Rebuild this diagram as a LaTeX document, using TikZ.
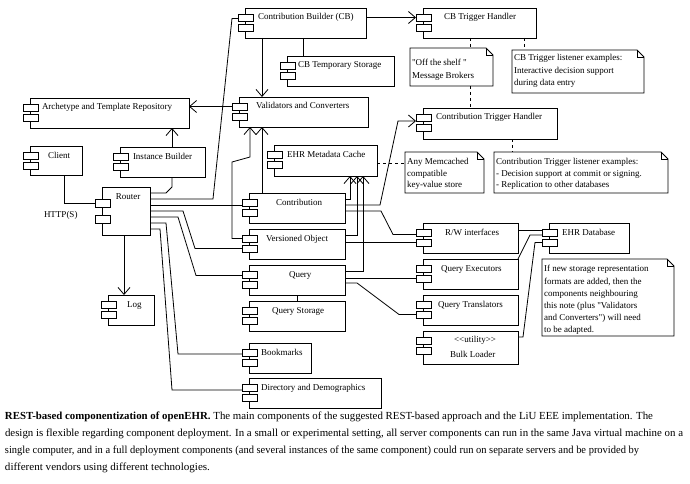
\documentclass[tikz,border=0pt]{standalone}
\usepackage{fontspec}
\usepackage{graphicx}
\newfontfamily\lblfont{Liberation Serif}
\newfontfamily\capfont{Liberation Serif}
\usetikzlibrary{arrows.meta,calc}

\newcommand\mkcomp[5]{%
  \node[compbox, minimum width=#4pt, minimum height=#5pt, anchor=north west] (#1) at (#2,#3) {};
  \node[iconbox, anchor=north] (#1i1) at ($(#1.north west)+(0.5,6)$) {};
  \node[iconbox, anchor=north] (#1i2) at ($(#1.north west)+(0.5,16)$) {};
}
\newcommand\mklab[3]{\node[lbl] (#1t) at ($(#1.north west)+(#2,12)$) {#3};}
\newcommand\mknote[5]{%
  \node[notebox, minimum width=#4pt, minimum height=#5pt, anchor=north west] (#1) at (#2,#3) {};
  \draw[notepen] (#1.north west) -- ($(#1.north east)+(-7,0)$) -- ($(#1.north east)+(0,7)$) -- (#1.south east) -- (#1.south west) -- cycle;
  \draw[notepen] ($(#1.north east)+(-7,0)$) -- ($(#1.north east)+(-7,7)$) -- ($(#1.north east)+(0,7)$);
}
\newcommand\mkline[4]{\node[lbl] (#1) at ($(#2.north west)+(2,#3)$) {#4};}

\tikzset{
  compbox/.style={draw, line width=0.9pt, fill=white, inner sep=0pt, outer sep=0pt},
  iconbox/.style={draw, line width=0.9pt, fill=white, minimum width=15pt, minimum height=7pt, inner sep=0pt, outer sep=0pt},
  notebox/.style={draw=none, inner sep=0pt, outer sep=0pt},
  notepen/.style={line width=0.9pt},
  lbl/.style={anchor=base west, inner sep=0pt, outer sep=0pt, font=\lblfont\fontsize{9}{11}\selectfont},
  conn/.style={line width=0.8pt},
  arr/.style={conn, -{Straight Barb[length=7pt, width=12pt]}},
  dsh/.style={conn, dash pattern=on 3pt off 3pt},
  capline/.style={anchor=base west, inner sep=0pt, outer sep=0pt, font=\capfont\fontsize{10.8}{12}\selectfont},
}

\begin{document}
\begin{tikzpicture}[x=1pt, y=-1pt]
\fill[white] (0,0) rectangle (690,484);
\useasboundingbox (0,0) rectangle (690,484);

% ---------- components ----------
\mkcomp{arch}{30}{98}{159}{30}     \mklab{arch}{12}{Archetype and Template Repository}
\mkcomp{client}{30}{146}{52}{29}   \mklab{client}{18}{Client}
\mkcomp{ib}{120}{147}{85}{30}      \mklab{ib}{13}{Instance Builder}
\mkcomp{log}{108}{295}{46}{30}     \mklab{log}{19}{Log}
\mkcomp{cb}{245}{8}{121}{30}       \mklab{cb}{13}{Contribution Builder (CB)}
\mkcomp{cbts}{287}{56}{107}{30}    \mklab{cbts}{11}{CB Temporary Storage}
\mkcomp{val}{239}{97}{129}{30}     \mklab{val}{17}{Validators and Converters}
\mkcomp{cache}{274}{145}{103}{31}  \mklab{cache}{13}{EHR Metadata Cache}
\mkcomp{contrib}{249}{193}{96}{30} \mklab{contrib}{27}{Contribution}
\mkcomp{vo}{249}{229}{96}{30}      \mklab{vo}{17}{Versioned Object}
\mkcomp{query}{249}{265}{96}{30}   \mklab{query}{40}{Query}
\mkcomp{qs}{249}{301}{96}{30}      \mklab{qs}{23}{Query Storage}
\mkcomp{bm}{249}{343}{62}{30}      \mklab{bm}{12}{Bookmarks}
\mkcomp{dir}{249}{378}{132}{30}    \mklab{dir}{12}{Directory and Demographics}
\mkcomp{cbth}{423}{8}{113}{30}     \mklab{cbth}{21}{CB Trigger Handler}
\mkcomp{cth}{423}{108}{134}{31}    \mklab{cth}{13}{Contribution Trigger Handler}
\mkcomp{rw}{423}{223}{95}{30}      \mklab{rw}{22}{R/W interfaces}
\mkcomp{qe}{423}{259}{95}{30}      \mklab{qe}{18}{Query Executors}
\mkcomp{qt}{423}{295}{95}{30}      \mklab{qt}{15}{Query Translators}
\mkcomp{bl}{423}{331}{95}{33}
\node[lbl, anchor=base] (blt1) at ($(bl.north west)+(52,11)$) {<\kern0pt<utility>\kern0pt>};
\node[lbl] (blt2) at ($(bl.north west)+(27,26)$) {Bulk Loader};
\mkcomp{ehr}{549}{223}{80}{30}     \mklab{ehr}{13}{EHR Database}

% Router (special icons)
\node[compbox, minimum width=48pt, minimum height=48pt, anchor=north west] (router) at (102,187) {};
\node[iconbox, minimum height=8pt, anchor=north] (routeri1) at ($(router.north west)+(0.5,12)$) {};
\node[iconbox, minimum height=8pt, anchor=north] (routeri2) at ($(router.north west)+(0.5,28)$) {};
\node[lbl, anchor=base] (routert) at ($(router.north)+(2,12)$) {Router};
\node[lbl] (http) at (44,217) {HTTP(S)};

% ---------- notes ----------
\mknote{offshelf}{410}{48}{83}{38}
\mkline{os1}{offshelf}{18}{"Off the shelf "}
\mkline{os2}{offshelf}{31}{Message Brokers}
\mknote{cbnote}{512}{50}{132}{43}
\mkline{cbn1}{cbnote}{11}{CB Trigger listener examples:}
\mkline{cbn2}{cbnote}{24}{Interactive decision support}
\mkline{cbn3}{cbnote}{36}{during data entry}
\mknote{memnote}{405}{152}{79}{41}
\mkline{mn1}{memnote}{12}{Any Memcached}
\mkline{mn2}{memnote}{24}{compatible}
\mkline{mn3}{memnote}{35}{key-value store}
\mknote{ctlnote}{494}{152}{174}{41}
\mkline{ctl1}{ctlnote}{12}{Contribution Trigger listener examples:}
\mkline{ctl2}{ctlnote}{24}{- Decision support at commit or signing.}
\mkline{ctl3}{ctlnote}{35}{- Replication to other databases}
\mknote{ehrnote}{542}{259}{132}{77}
\mkline{en1}{ehrnote}{12}{If new storage representation}
\mkline{en2}{ehrnote}{25}{formats are added, then the}
\mkline{en3}{ehrnote}{37}{components neighbouring}
\mkline{en4}{ehrnote}{49}{this note (plus "Validators}
\mkline{en5}{ehrnote}{61}{and Converters") will need}
\mkline{en6}{ehrnote}{73}{to be adapted.}

% ---------- connectors ----------
\foreach \k in {1,...,7} \coordinate (r\k) at ($(router.north east)+(0,{6*\k})$);

\coordinate (cl) at ($(client.south west)+(34,0)$);
\draw[conn] (cl) -- (cl |- routeri1.west) -- (routeri1.west);
\coordinate (rl) at ($(router.south)+(-2,0)$);
\draw[arr] (rl) -- (rl |- log.north);

\coordinate (ibb) at ($(ib.south west)+(52,0)$);
\draw[conn] (r1) -- (166,193) -- (172,187) -- (ibb);
\coordinate (ibt) at ($(ib.north west)+(52,0)$);
\draw[arr] (ibt) -- (ibt |- arch.south);

\draw[conn] (r2) -- (213,199) -- (232,18.5) -- ($(cbi1.west)+(0,1)$);
\draw[conn] (r3) -- (r3 -| contribi1.west);
\draw[conn] (r4) -- (183,211) -- (195,248.5) -- (voi2.west);
\draw[conn] (r5) -- (178,217) -- (196,275.5) -- ($(queryi1.west)+(0,1)$);
\draw[conn] (r6) -- (166,223) -- (178,354) -- ($(bmi1.west)+(0,1.5)$);
\draw[conn] (r7) -- (160,229) -- (172,390) -- ($(diri1.west)+(0,2.5)$);

\draw[arr] (vali1.west) -- (vali1.west -| arch.east);
\coordinate (cbv) at ($(cb.south west)+(17,0)$);
\draw[arr] (cbv) -- (cbv |- val.north);
\coordinate (cbs) at ($(cb.south west)+(58,0)$);
\draw[conn] (cbs) -- (cbs |- cbts.north);
\coordinate (cv) at ($(contrib.north west)+(13,0)$);
\draw[arr] (cv) -- (cv |- val.south);
\coordinate (vv) at ($(val.south west)+(11,0)$);
\draw[arr] (voi1.west) -- (232,238.5) -- (232,162) -- (250,157) -- (vv);

\draw[arr] (cb.east |- cbthi1.west) -- (cbthi1.west);

\coordinate (c1) at ($(contrib.north east)+(0,6)$);
\coordinate (ca1) at ($(cache.south west)+(76,0)$);
\draw[arr] (c1) -| (ca1);
\coordinate (v1) at ($(vo.north east)+(0,6)$);
\coordinate (ca2) at ($(cache.south west)+(83,0)$);
\draw[arr] (v1) -| (ca2);
\coordinate (q1) at ($(query.north east)+(0,6)$);
\coordinate (ca3) at ($(cache.south west)+(89,0)$);
\draw[arr] (q1) -| (ca3);

\draw[conn] (query.south) -- (qs.north);

\coordinate (c2) at ($(contrib.north east)+(0,12)$);
\draw[arr] (c2) -- (380,205) -- (398,121) -- (cthi1.south west);
\coordinate (c3) at ($(contrib.north east)+(0,18)$);
\draw[conn] (c3) -- (381,211) -- (393,234.5) -- ($(rwi1.west)+(0,2)$);
\draw[conn] (vo.east |- rwi2.west) -- (rwi2.west);
\draw[conn] (query.east |- qei2.west) -- (qei2.west);
\coordinate (q3) at ($(query.north east)+(0,18)$);
\draw[conn] (q3) -- (357,283) -- (399,314.5) -- (qti2.west);

\coordinate (e1) at ($(ehri1.west)+(0,-2)$);
\draw[conn] (e1 -| rw.east) -- (e1);
\coordinate (e2) at ($(ehri1.west)+(0,2.5)$);
\draw[conn] (qe.north east) -- (530,235) -- (e2);
\coordinate (b1) at ($(bl.north east)+(0,6)$);
\draw[conn] (b1) -- (523,337) -- (535,242.5) -- (ehri2.west);

% dashed note links
\coordinate (m1) at ($(cache.east)+(0,2.5)$);
\draw[dsh] (m1) -- (m1 -| memnote.west);
\coordinate (d1) at ($(cbth.south west)+(47,0)$);
\draw[dsh] (d1) -- (d1 |- offshelf.north);
\draw[dsh] (d1 |- offshelf.south) -- (d1 |- cth.north);
\coordinate (d2) at ($(cbth.south west)+(101,0)$);
\draw[dsh] (d2) -- (d2 |- cbnote.north);
\coordinate (d3) at ($(cth.south west)+(89,0)$);
\draw[dsh] (d3) -- (d3 |- ctlnote.north);

% ---------- caption ----------
\node[capline] (cap1) at (5,419) {\resizebox{648pt}{\height}{\textbf{REST-based componentization of openEHR.} The main components of the suggested REST-based approach and the LiU EEE implementation. The}};
\node[capline] (cap2) at (5,436) {\resizebox{678pt}{\height}{design is flexible regarding component deployment. In a small or experimental setting, all server components can run in the same Java virtual machine on a}};
\node[capline] (cap3) at (5,453) {\resizebox{634pt}{\height}{single computer, and in a full deployment components (and several instances of the same component) could run on separate servers and be provided by}};
\node[capline] (cap4) at (5,470) {\resizebox{205pt}{\height}{different vendors using different technologies.}};
\end{tikzpicture}
\end{document}
